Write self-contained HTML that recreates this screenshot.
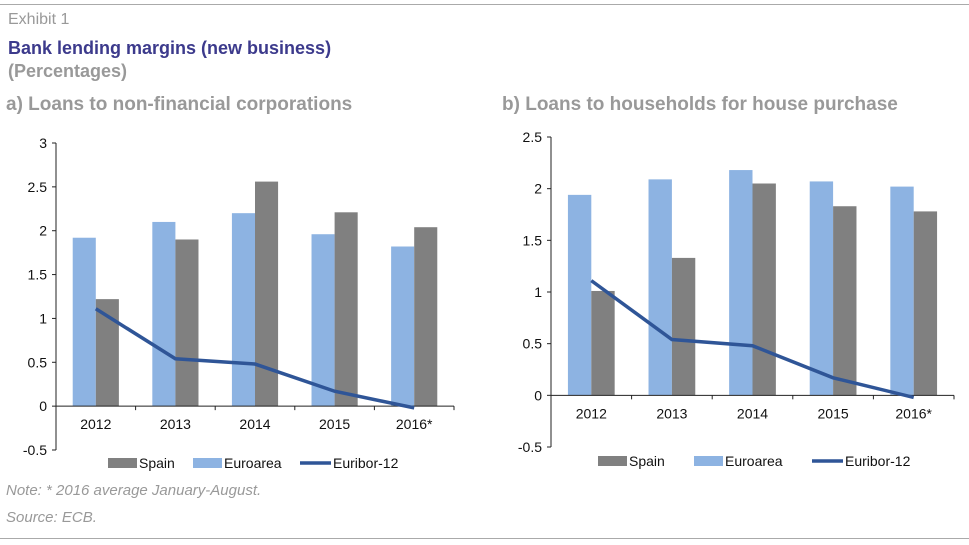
<!DOCTYPE html>
<html><head><meta charset="utf-8"><style>
body{margin:0;width:969px;height:545px;background:#fff;font-family:"Liberation Sans",Arial,sans-serif;position:relative;overflow:hidden}
.t{position:absolute;white-space:nowrap}
</style></head><body>
<div style="position:absolute;left:0;top:4px;width:969px;height:1px;background:#aaa"></div>
<div class="t" style="left:8px;top:11px;font-size:16px;color:#999">Exhibit 1</div>
<div class="t" style="left:8px;top:38px;font-size:18px;font-weight:bold;color:#3c3a8c">Bank lending margins (new business)</div>
<div class="t" style="left:8px;top:61px;font-size:18px;font-weight:bold;color:#999">(Percentages)</div>
<div class="t" style="left:6px;top:94px;font-size:19px;font-weight:bold;color:#999">a) Loans to non-financial corporations</div>
<div class="t" style="left:502px;top:94px;font-size:19px;font-weight:bold;color:#999">b) Loans to households for house purchase</div>
<div class="t" style="left:6px;top:482px;font-size:15px;font-style:italic;color:#999">Note: * 2016 average January-August.</div>
<div class="t" style="left:6px;top:509px;font-size:15px;font-style:italic;color:#999">Source: ECB.</div>
<div style="position:absolute;left:0;top:538px;width:969px;height:1px;background:#aaa"></div>
<svg id="svg" width="969" height="545" style="position:absolute;left:0;top:0" font-family="Liberation Sans, Arial, sans-serif"></svg>
<script>
const categories=["2012","2013","2014","2015","2016*"];
const euroA=[1.92,2.1,2.2,1.96,1.82];
const spainA=[1.22,1.9,2.56,2.21,2.04];
const euriborA=[1.11,0.54,0.48,0.17,-0.02];
const ticksA=[-0.5,0,0.5,1,1.5,2,2.5,3];
const euroB=[1.94,2.09,2.18,2.07,2.02];
const spainB=[1.01,1.33,2.05,1.83,1.78];
const euriborB=[1.11,0.54,0.48,0.17,-0.02];
const ticksB=[-0.5,0,0.5,1,1.5,2,2.5];
const NS="http://www.w3.org/2000/svg";
const svg=document.getElementById('svg');
function mk(t,a,p){const e=document.createElementNS(NS,t);for(const k in a)e.setAttribute(k,a[k]);(p||svg).appendChild(e);return e;}
function chart(id,cfg,euro,spain,eur,ticks){
 const g=mk('g',{});
 
 
 const y=v=>cfg.y0-(v-ticks[0])/(ticks[ticks.length-1]-ticks[0])*(cfg.y0-cfg.y1);
 const cw=(cfg.x1-cfg.x0)/categories.length;
 const x=i=>cfg.x0+cw*(i+0.5);
 const bw=cw*0.29;
 categories.forEach((c,i)=>{
  const r1=mk('rect',{x:x(i)-bw,y:Math.min(y(euro[i]),y(0)),width:bw,height:Math.abs(y(0)-y(euro[i])),fill:'#8db3e2'},g);
  
  
  const r2=mk('rect',{x:x(i),y:Math.min(y(spain[i]),y(0)),width:bw,height:Math.abs(y(0)-y(spain[i])),fill:'#808080'},g);
  
  
 });
 const ya=mk('line',{x1:cfg.x0,x2:cfg.x0,y1:y(ticks[0]),y2:y(ticks[ticks.length-1]),stroke:'#222','stroke-width':1},g);
 
 
 ticks.forEach(t=>{
  mk('line',{x1:cfg.x0-4,x2:cfg.x0,y1:y(t),y2:y(t),stroke:'#222'},g);
  const tx=mk('text',{x:cfg.x0-9,y:y(t)+5,'text-anchor':'end','font-size':14,fill:'#111'},g);
  tx.textContent=String(t);
  
  
 });
 const xa=mk('line',{x1:cfg.x0,x2:cfg.x1,y1:y(0),y2:y(0),stroke:'#222'},g);
 
 
 categories.forEach((c,i)=>{
  mk('line',{x1:cfg.x0+cw*(i+1),x2:cfg.x0+cw*(i+1),y1:y(0),y2:y(0)+4,stroke:'#222'},g);
  const tx=mk('text',{x:x(i),y:y(0)+23,'text-anchor':'middle','font-size':14,fill:'#111'},g);
  tx.textContent=c;
  
  
 });
 const ln=mk('polyline',{points:eur.map((v,i)=>x(i)+','+y(v)).join(' '),fill:'none',stroke:'#2f5597','stroke-width':3.5},g);
 
 
 const L=cfg.leg, ly=cfg.ly;
 const items=[['Spain','#808080',0],['Euroarea','#8db3e2',0],['Euribor-12','#2f5597',1]];
 items.forEach((it,k)=>{
  const lx=L[k];
  const lg=mk('g',{},g);
  
  
  if(it[2])mk('line',{x1:lx,x2:lx+31,y1:ly,y2:ly,stroke:it[1],'stroke-width':3.5},lg);
  else mk('rect',{x:lx,y:ly-5,width:29,height:10,fill:it[1]},lg);
  const tx=mk('text',{x:lx+(it[2]?33:31),y:ly+5,'font-size':14,fill:'#111'},lg);
  tx.textContent=it[0];
 });
}
chart('chart-a',{x0:56,x1:454,y0:450,y1:143,leg:[108,193,300],ly:463},euroA,spainA,euriborA,ticksA);
chart('chart-b',{x0:551,x1:954,y0:447,y1:137,leg:[598,694,812],ly:461},euroB,spainB,euriborB,ticksB);
</script>
</body></html>
